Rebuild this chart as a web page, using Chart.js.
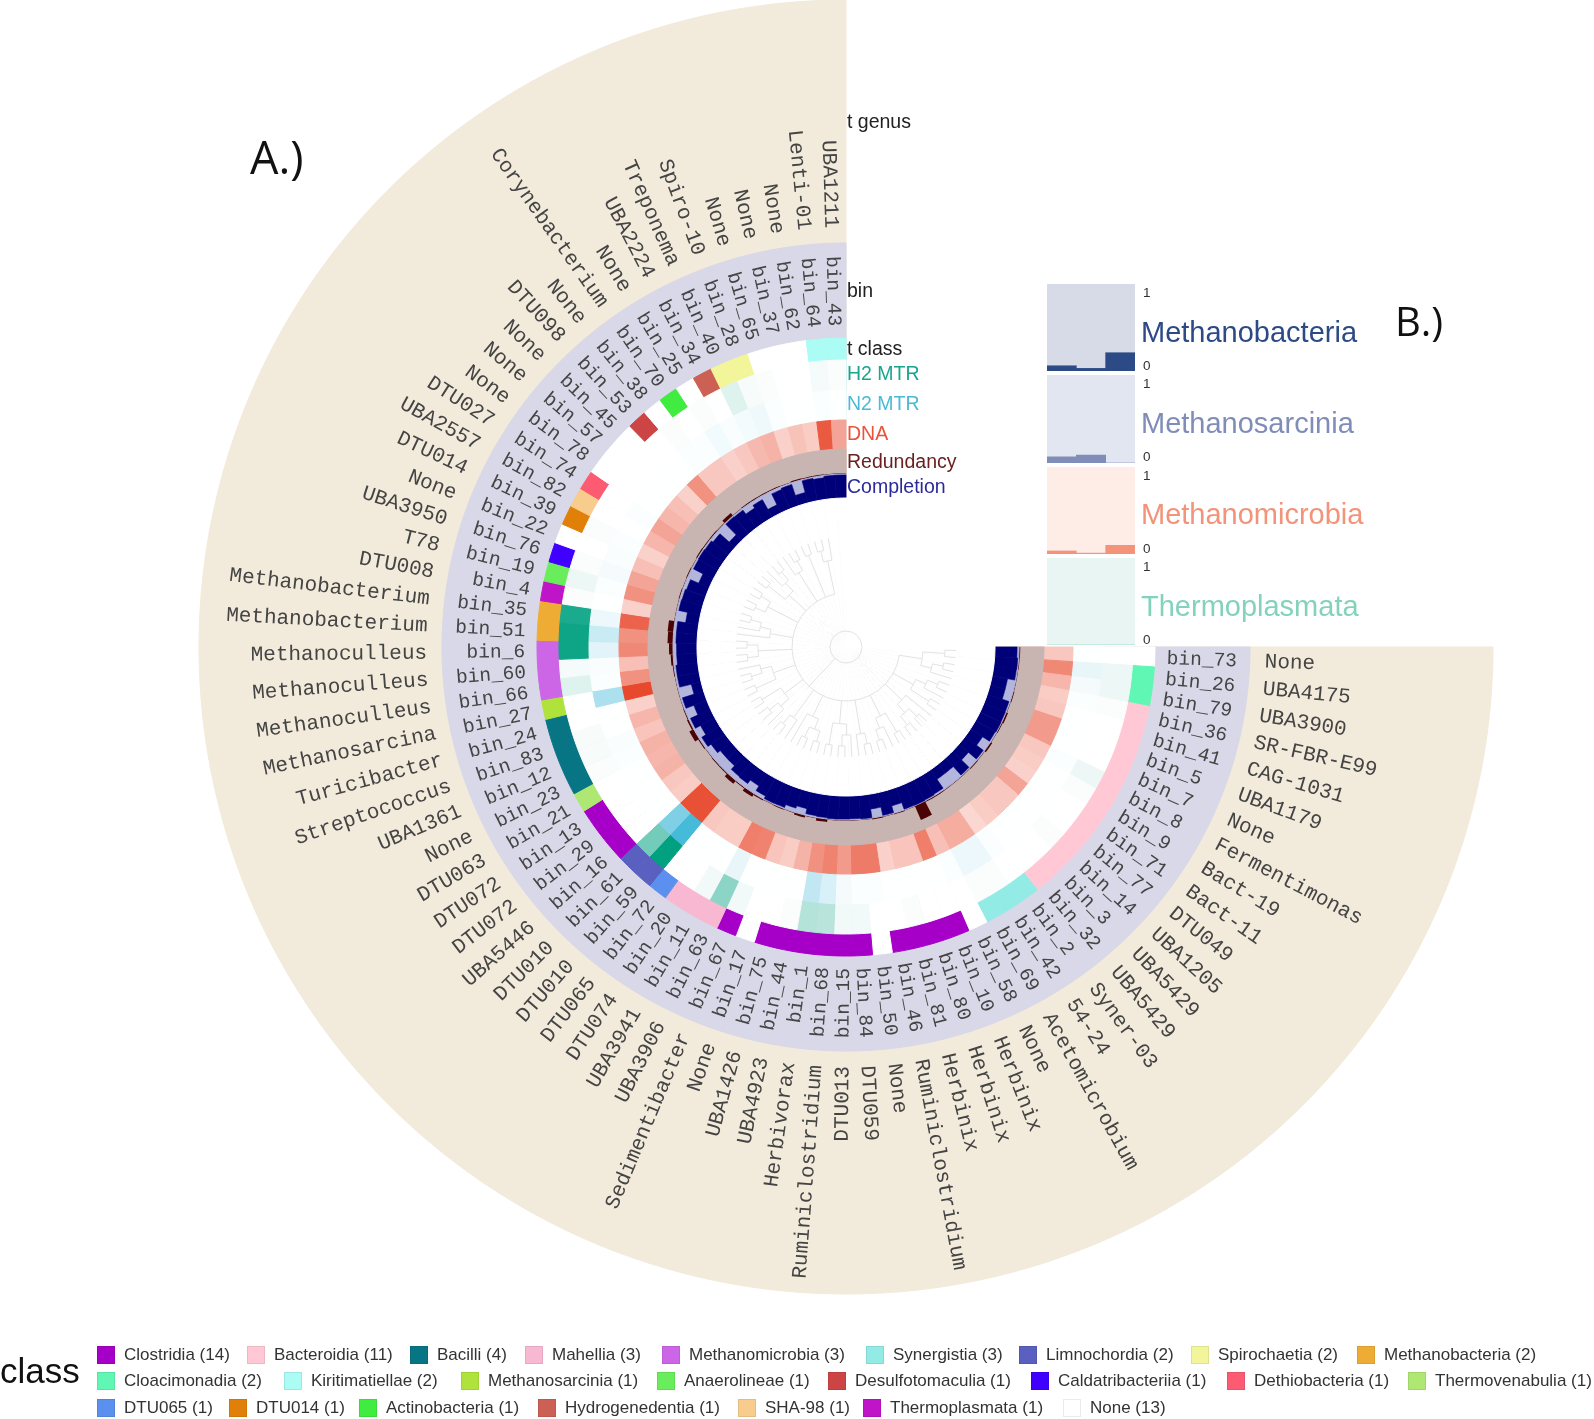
<!DOCTYPE html>
<html><head><meta charset="utf-8">
<script src="https://cdn.jsdelivr.net/npm/chart.js@4"></script>
<style>
html,body{margin:0;padding:0;background:#fff;width:1594px;height:1419px;overflow:hidden;font-family:"Liberation Sans",Arial,sans-serif}
canvas{position:absolute}
#main{left:0;top:0}
.t{position:absolute;white-space:nowrap;line-height:1;transform:translateY(-50%)}
.sw{position:absolute;width:18px;height:18px;box-sizing:border-box;transform:translateY(-50%);border:1px solid rgba(0,0,0,.08)}
</style></head><body>
<canvas id="main" width="1594" height="1419"></canvas>
<div id="overlay"></div>
<script>
const bins=["bin_73","bin_26","bin_79","bin_36","bin_41","bin_5","bin_7","bin_8","bin_9","bin_71","bin_77","bin_14","bin_3","bin_32","bin_2","bin_42","bin_69","bin_58","bin_10","bin_80","bin_81","bin_46","bin_50","bin_84","bin_15","bin_68","bin_1","bin_44","bin_75","bin_17","bin_67","bin_63","bin_11","bin_20","bin_72","bin_59","bin_61","bin_16","bin_29","bin_13","bin_21","bin_23","bin_12","bin_83","bin_24","bin_27","bin_66","bin_60","bin_6","bin_51","bin_35","bin_4","bin_19","bin_76","bin_22","bin_39","bin_82","bin_74","bin_78","bin_57","bin_45","bin_53","bin_38","bin_70","bin_25","bin_34","bin_40","bin_28","bin_65","bin_37","bin_62","bin_64","bin_43"];
const genus=["None","UBA4175","UBA3900","SR-FBR-E99","CAG-1031","UBA1179","None","Fermentimonas","Bact-19","Bact-11","DTU049","UBA1205","UBA5429","UBA5429","Syner-03","54-24","Acetomicrobium","None","Herbinix","Herbinix","Herbinix","Ruminiclostridium","None","DTU059","DTU013","Ruminiclostridium","Herbivorax","UBA4923","UBA1426","None","Sedimentibacter","UBA3906","UBA3941","DTU074","DTU065","DTU010","DTU010","UBA5446","DTU072","DTU072","DTU063","None","UBA1361","Streptococcus","Turicibacter","Methanosarcina","Methanoculleus","Methanoculleus","Methanoculleus","Methanobacterium","Methanobacterium","DTU008","T78","UBA3950","None","DTU014","UBA2557","DTU027","None","None","None","DTU098","None","Corynebacterium","None","UBA2224","Treponema","Spiro-10","None","None","None","Lenti-01","UBA1211"];
const classes=["None","Cloacimonadia","Cloacimonadia","Bacteroidia","Bacteroidia","Bacteroidia","Bacteroidia","Bacteroidia","Bacteroidia","Bacteroidia","Bacteroidia","Bacteroidia","Bacteroidia","Bacteroidia","Synergistia","Synergistia","Synergistia","None","Clostridia","Clostridia","Clostridia","Clostridia","None","Clostridia","Clostridia","Clostridia","Clostridia","Clostridia","Clostridia","None","Clostridia","Mahellia","Mahellia","Mahellia","DTU065","Limnochordia","Limnochordia","Clostridia","Clostridia","Clostridia","Thermovenabulia","Bacilli","Bacilli","Bacilli","Bacilli","Methanosarcinia","Methanomicrobia","Methanomicrobia","Methanomicrobia","Methanobacteria","Methanobacteria","Thermoplasmata","Anaerolineae","Caldatribacteriia","None","DTU014","SHA-98","Dethiobacteria","None","None","None","Desulfotomaculia","None","Actinobacteria","None","Hydrogenedentia","Spirochaetia","Spirochaetia","None","None","None","Kiritimatiellae","Kiritimatiellae"];
const h2Mtr=[.005,.07,.07,.02,.005,.005,.005,.07,.02,.005,
.005,.02,.005,.005,.005,.02,.02,.005,.005,.005,
.02,.005,.005,.05,.05,.28,.30,.02,.005,.005,
.05,.45,.05,.005,.005,1.0,.55,.005,.005,.005,
.005,.02,.03,.03,.005,.005,.13,.04,.95,.95,
.90,.02,.07,.02,.005,.02,.005,.005,.005,.005,
.005,.005,.02,.005,.02,.005,.13,.03,.02,.005,
.005,.04,.02];
const n2Mtr=[.005,.12,.05,.02,.005,.005,.005,.02,.005,.005,
.005,.005,.005,.005,.02,.10,.10,.02,.005,.005,
.005,.005,.02,.02,.05,.20,.32,.005,.005,.005,
.005,.12,.005,.005,.005,.95,.65,.005,.005,.005,
.005,.02,.03,.005,.005,.42,.02,.03,.15,.28,
.10,.005,.02,.05,.03,.02,.005,.02,.005,.005,
.005,.005,.02,.02,.07,.03,.06,.08,.02,.005,
.005,.02,.005];
const dna=[.30,.65,.40,.28,.30,.55,.55,.30,.28,.25,
.50,.30,.30,.28,.22,.45,.45,.35,.70,.32,
.32,.25,.72,.72,.55,.68,.60,.42,.28,.32,
.68,.70,.28,.28,.30,.95,.95,.28,.30,.42,
.40,.42,.32,.40,.25,1.0,.60,.35,.65,.60,
.85,.25,.60,.50,.35,.25,.40,.50,.40,.35,
.25,.60,.30,.30,.25,.30,.38,.42,.25,.33,
.28,.90,.50];
const redundancy=[.05,.04,.03,.03,.05,.03,.08,.05,.03,.08,
.03,.05,.03,.03,.03,.05,.05,.62,.03,.05,
.03,.06,.03,.03,.03,.03,.12,.03,.1,.03,
.05,.03,.06,.15,.05,.17,.05,.05,.03,.06,
.2,.08,.05,.03,.03,.03,.05,.1,.16,.22,
.24,.03,.03,.05,.03,.05,.03,.06,.05,.05,
.04,.15,.03,.05,.05,.05,.05,.03,.06,.05,
.05,.03,.03];
const completion=[.92,.96,.95,.65,.65,.95,.96,.97,.94,.60,
.95,.52,.96,.48,.48,.93,.96,.98,.97,.68,
.97,.62,.98,.95,.96,.97,.95,.93,.72,.82,
.95,.96,.85,.62,.80,.78,.58,.58,.72,.88,
.68,.92,.58,.93,.42,.92,.92,.85,.85,.88,
.88,.55,.92,.90,.85,.48,.93,.95,.93,.85,
.33,.95,.93,.72,.85,.38,.88,.93,.45,.95,
.90,.96,.96];
const classLegend=[["Clostridia",14],["Bacteroidia",11],["Bacilli",4],["Mahellia",3],["Methanomicrobia",3],["Synergistia",3],["Limnochordia",2],["Spirochaetia",2],["Methanobacteria",2],["Cloacimonadia",2],["Kiritimatiellae",2],["Methanosarcinia",1],["Anaerolineae",1],["Desulfotomaculia",1],["Caldatribacteriia",1],["Dethiobacteria",1],["Thermovenabulia",1],["DTU065",1],["DTU014",1],["Actinobacteria",1],["Hydrogenedentia",1],["SHA-98",1],["Thermoplasmata",1],["None",13]];
const classColors={Clostridia:"#a600c8",Bacteroidia:"#ffc8d4",Bacilli:"#087584",Mahellia:"#f9b8d2",Methanomicrobia:"#cc66e6",Synergistia:"#93ebe6",Limnochordia:"#5a60c0",Spirochaetia:"#f3f59b",Methanobacteria:"#efac35",Cloacimonadia:"#5ff7b3",Kiritimatiellae:"#aafcf4",Methanosarcinia:"#b0e23c",Anaerolineae:"#6aed5b",Desulfotomaculia:"#cc4444",Caldatribacteriia:"#3f00ff",Dethiobacteria:"#fc5b72",Thermovenabulia:"#aee872",DTU065:"#5b90ee",DTU014:"#e08008",Actinobacteria:"#40ec40",Hydrogenedentia:"#cc6055","SHA-98":"#f8cc8c",Thermoplasmata:"#c014c8",None:"#ffffff"};
const panelNames=["Methanobacteria","Methanosarcinia","Methanomicrobia","Thermoplasmata"];
const panelCats=["a","b","c"];
const panelMethanobacteria=[.06,.03,.21];
const panelMethanosarcinia=[.07,.09,0];
const panelMethanomicrobia=[.035,.01,.1];
const panelThermoplasmata=[0,0,0];

/* phylogeny: nested clades, leaves are 0 */
const treeClades=[
 [[0,0],[[0,0],0]],[[[0,0],0],[0,0]],[0,[[0,0],[0,0]]],[[0,0],[0,[0,0]]],
 [[0,0],0],[[0,[0,0]],[0,0]],[[[0,0],[0,0]],0],[0,[0,0]],
 [[0,[0,0]],[0,0]],[[0,0],[[0,0],0]],[[0,0],[0,0]],[0,[0,[0,0]]],
 [[0,0],[0,0]],[[0,0],[0,[0,0]]],[0,[0,0]],[0,0],[[0,0],0]
];

/* ---------- geometry of the rings (radial units) ---------- */
const R={outer:647,bin:404,cls:309,h2:287,n2:257,dna:227,red:198,comp:173,core:149};
const BG={genus:"#f2eadb",bin:"#d8d8e8",red:"#c8b5b2",comp:"#b3b6dc",navy:"#000078",brown:"#4a0404"};
const mix=(rgb,v)=>"rgb("+rgb.map(c=>Math.round(255+(c-255)*v)).join(",")+")";
const n=bins.length, step=270/n;
const solid=(r,col)=>({data:bins.map(()=>r),backgroundColor:col,borderColor:col,borderWidth:1,angle:step});
const cells=(r,cols)=>({data:bins.map(()=>r),backgroundColor:cols,borderColor:cols,borderWidth:1,angle:step});
const layers=[
 solid(R.outer,BG.genus),
 solid(R.bin,BG.bin),
 cells(R.cls,classes.map(c=>classColors[c])),
 cells(R.h2,h2Mtr.map(v=>mix([0,160,128],v))),
 cells(R.n2,n2Mtr.map(v=>mix([60,182,215],v))),
 cells(R.dna,dna.map(v=>mix([232,72,44],v))),
 solid(R.red,BG.red),
 {data:redundancy.map(v=>R.comp+v*(R.red-R.comp)),backgroundColor:BG.brown,borderWidth:0,angle:step},
 solid(R.comp,BG.comp),
 {data:completion.map(v=>R.core+v*(R.comp-R.core)),backgroundColor:BG.navy,borderColor:BG.navy,borderWidth:.6,angle:step},
 {data:bins.map(()=>R.core),backgroundColor:"#ffffff",borderColor:"#ffffff",borderWidth:1,angle:360/n}
].reverse();

const labelsPlugin={id:"ringLabels",afterDatasetsDraw(chart){
  const c=chart.ctx,s=chart.scales.r,arcs=chart.getDatasetMeta(1).data;
  const put=(txt,mid,r,font,col)=>{
    const flip=Math.cos(mid)<0;
    c.save();c.translate(s.xCenter,s.yCenter);c.rotate(flip?mid+Math.PI:mid);
    c.font=font;c.fillStyle=col;c.textBaseline="middle";c.textAlign=flip?"right":"left";
    c.fillText(txt,flip?-r:r,1.5);c.restore();
  };
  arcs.forEach((a,i)=>{
    const mid=(a.startAngle+a.endAngle)/2;
    put(bins[i],mid,s.getDistanceFromCenterForValue(321),'19.5px "Liberation Mono"',"#444");
    put(genus[i],mid,s.getDistanceFromCenterForValue(419),'21px "Liberation Mono"',"#444");
  });
  /* dendrogram */
  c.save();c.translate(s.xCenter,s.yCenter);c.strokeStyle="#e3e3e3";c.lineWidth=1;
  const rad=v=>s.getDistanceFromCenterForValue(v);
  const mids=arcs.map(a=>(a.startAngle+a.endAngle)/2);
  let leaf=0;
  const seg=(a,r0,r1)=>{c.beginPath();c.moveTo(Math.cos(a)*rad(r0),Math.sin(a)*rad(r0));c.lineTo(Math.cos(a)*rad(r1),Math.sin(a)*rad(r1));c.stroke();};
  const arc=(r,a0,a1)=>{c.beginPath();c.arc(0,0,rad(r),a0,a1);c.stroke();};
  const height=t=>t===0?0:1+Math.max(...t.map(height));
  const walk=(t)=>{
    if(t===0){return {a:mids[leaf++],r:110};}
    const kids=t.map(walk);const h=height(t);const r=110-h*11;
    kids.forEach(k=>seg(k.a,r,k.r));
    const as=kids.map(k=>k.a);arc(r,Math.min(...as),Math.max(...as));
    return {a:(Math.min(...as)+Math.max(...as))/2,r};
  };
  const tops=treeClades.map(walk);
  const spine=54;
  tops.forEach(k=>seg(k.a,spine,k.r));
  arc(spine,tops[0].a,tops[tops.length-1].a);
  const midA=(tops[0].a+tops[tops.length-1].a)/2;
  seg(midA,16,spine);arc(16,0,Math.PI*2);
  c.restore();
}};

new Chart(document.getElementById("main"),{
 type:"polarArea",
 data:{labels:bins,datasets:layers},
 plugins:[labelsPlugin],
 options:{responsive:false,animation:false,devicePixelRatio:1,
  layout:{padding:{left:199,right:101,top:0,bottom:125}},
  plugins:{legend:{display:false},tooltip:{enabled:false}},
  scales:{r:{type:"radialLinear",display:false,min:0,max:R.outer,startAngle:90,
    ticks:{display:false,backdropPadding:0},pointLabels:{display:false},grid:{display:false},angleLines:{display:false}}}
 }
});

/* ---------- panel B ---------- */
const panelBoxes=[{top:284,h:87,bg:"#d6dbe7",col:"#2c4a85",data:panelMethanobacteria,ty:332},
 {top:375,h:88,bg:"#e2e6f0",col:"#7f8db8",data:panelMethanosarcinia,ty:423},
 {top:467,h:87,bg:"#feece6",col:"#f2937a",data:panelMethanomicrobia,ty:514},
 {top:558,h:87,bg:"#e8f5f2",col:"#84d2bb",data:panelThermoplasmata,ty:606}];
const ov=document.getElementById("overlay");
const addText=(txt,x,y,size,col,extra)=>{const d=document.createElement("div");d.className="t";d.textContent=txt;d.style.cssText=`left:${x}px;top:${y}px;font-size:${size}px;color:${col};${extra||""}`;ov.appendChild(d);return d;};
const panelBg={id:"panelBg",beforeDraw(ch,a,o){const {ctx,chartArea:z}=ch;ctx.save();ctx.fillStyle=o.color;ctx.fillRect(z.left,z.top,z.right-z.left,z.bottom-z.top);ctx.restore();}};
panelBoxes.forEach((p,k)=>{
  const cv=document.createElement("canvas");cv.width=88;cv.height=p.h;cv.style.left="1047px";cv.style.top=p.top+"px";document.body.appendChild(cv);
  new Chart(cv,{type:"bar",data:{labels:panelCats,datasets:[{data:p.data,backgroundColor:p.col,barPercentage:1,categoryPercentage:1,borderWidth:0}]},plugins:[panelBg],
   options:{responsive:false,animation:false,devicePixelRatio:1,layout:{padding:0},plugins:{legend:{display:false},tooltip:{enabled:false},panelBg:{color:p.bg}},
    scales:{x:{display:false},y:{display:false,min:0,max:1}}}});
  addText(panelNames[k],1141,p.ty,29,p.col);
  addText("1",1143,p.top+9,13.5,"#333");
  addText("0",1143,p.top+82,13.5,"#333");
});

/* ---------- ring titles & letters ---------- */
[["t genus",122,"#222"],["bin",291,"#222"],["t class",349,"#222"],["H2 MTR",374,"#1aa58c"],["N2 MTR",404,"#4cb9d5"],["DNA",434,"#e8533b"],["Redundancy",462,"#6a2020"],["Completion",487,"#2a2a9a"]]
 .forEach(([t,y,c])=>addText(t,847,y,19.5,c));
addText("A.)",250,156,45,"#111",'font-family:"Open Sans"');
addText("B.)",1395,321,40,"#111",'font-family:"Open Sans"');
addText("class",0,1370,35,"#111");

/* ---------- legend ---------- */
const legendRows=[{y:1355,x:[97,247,410,525,662,866,1019,1191,1357]},
 {y:1381,x:[97,284,461,657,828,1031,1227,1408]},
 {y:1408,x:[97,229,359,538,738,863,1063]}];
let li=0;
legendRows.forEach(row=>row.x.forEach(x=>{
  const [name,cnt]=classLegend[li++];
  const s=document.createElement("div");s.className="sw";s.style.cssText=`left:${x}px;top:${row.y}px;background:${classColors[name]}`;ov.appendChild(s);
  addText(`${name} (${cnt})`,x+27,row.y-1,17,"#333");
}));
</script>
</body></html>
